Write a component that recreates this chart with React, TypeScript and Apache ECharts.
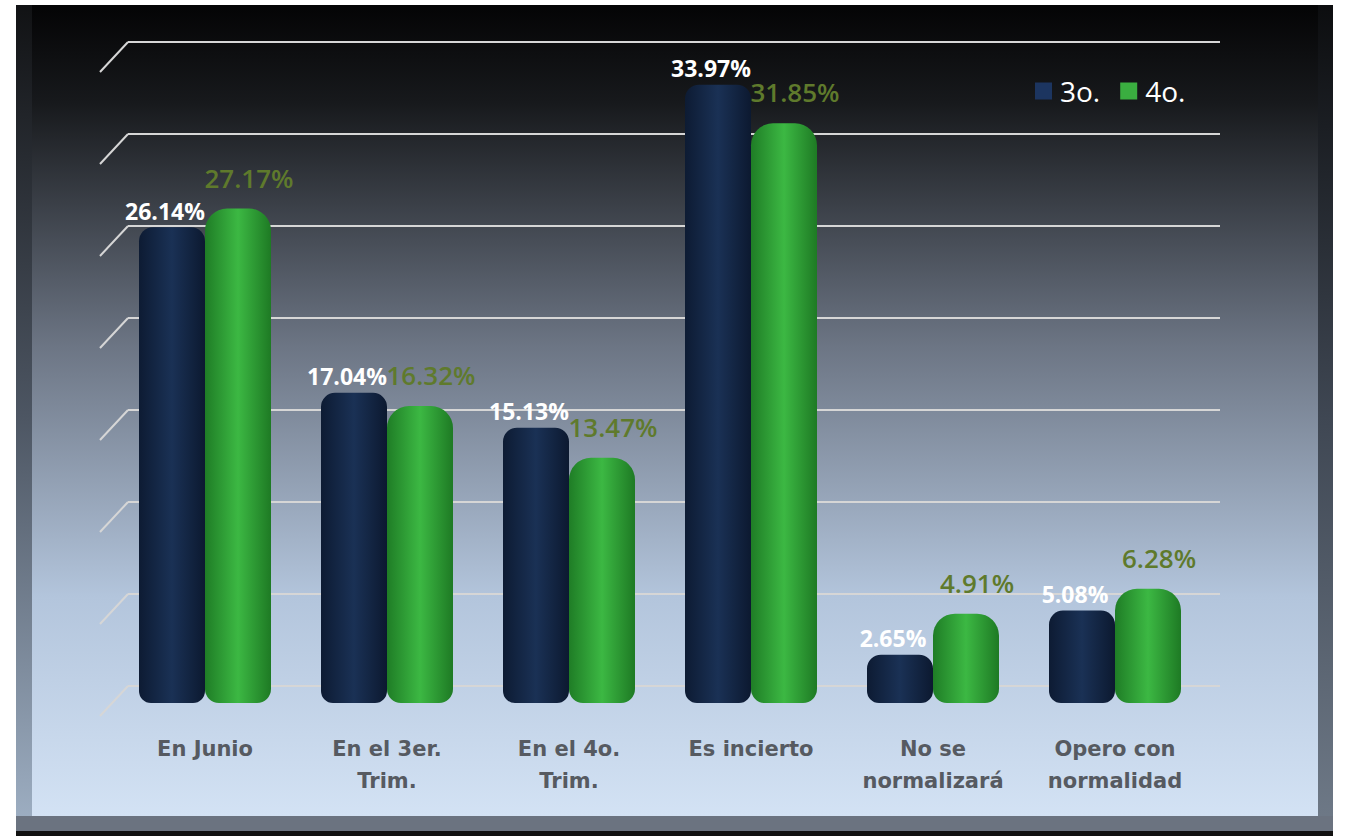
import React, { useEffect, useRef } from "react";
import * as echarts from "echarts";

const categories = [
  "En Junio",
  "En el 3er.\nTrim.",
  "En el 4o.\nTrim.",
  "Es incierto",
  "No se\nnormalizará",
  "Opero con\nnormalidad",
];
const seriesNames = ["3o.", "4o."];
const values3 = [26.14, 17.04, 15.13, 33.97, 2.65, 5.08];
const values4 = [27.17, 16.32, 13.47, 31.85, 4.91, 6.28];
const gridTicks = [0, 5, 10, 15, 20, 25, 30, 35];

export default function App() {
  const ref = useRef<HTMLDivElement>(null);
  useEffect(() => {
    if (!ref.current) return;
    const chart = echarts.init(ref.current, null, { renderer: "svg" });
    const navy = new echarts.graphic.LinearGradient(0, 0, 1, 0, [
      { offset: 0, color: "#0d1b33" },
      { offset: 0.5, color: "#1a3155" },
      { offset: 1, color: "#0c1930" },
    ]);
    const green = new echarts.graphic.LinearGradient(0, 0, 1, 0, [
      { offset: 0, color: "#1f7d26" },
      { offset: 0.5, color: "#3cb843" },
      { offset: 1, color: "#1e7a24" },
    ]);
    chart.setOption({
      animation: false,
      graphic: [
        {
          type: "rect",
          z: -10,
          shape: { x: 16, y: 5, width: 1317, height: 826 },
          style: {
            fill: new echarts.graphic.LinearGradient(0, 0, 0, 1, [
              { offset: 0, color: "#111214" },
              { offset: 0.5, color: "#4d5663" },
              { offset: 1, color: "#9fb0c4" },
            ]),
          },
        },
        {
          type: "rect",
          z: -9,
          shape: { x: 32, y: 5, width: 1286, height: 811 },
          style: {
            fill: new echarts.graphic.LinearGradient(0, 0, 0, 1, [
              { offset: 0, color: "#040405" },
              { offset: 0.12, color: "#17191c" },
              { offset: 0.42, color: "#6c7584" },
              { offset: 0.73, color: "#b3c5dc" },
              { offset: 1, color: "#d3e2f4" },
            ]),
          },
        },
        {
          type: "rect",
          z: -9,
          shape: { x: 1318, y: 5, width: 15, height: 826 },
          style: {
            fill: new echarts.graphic.LinearGradient(0, 0, 0, 1, [
              { offset: 0, color: "#0c0d0f" },
              { offset: 0.5, color: "#3f4753" },
              { offset: 1, color: "#6f7a88" },
            ]),
          },
        },
        {
          type: "rect",
          z: -8,
          shape: { x: 16, y: 816, width: 1317, height: 15 },
          style: { fill: "#6b7380" },
        },
        {
          type: "rect",
          z: -8,
          shape: { x: 16, y: 831, width: 1317, height: 5 },
          style: { fill: "#111111" },
        },
      ],
      legend: {
        data: [
          { name: seriesNames[0], itemStyle: { color: "#1c3560" } },
          { name: seriesNames[1], itemStyle: { color: "#3aae40" } },
        ],
        left: 1030,
        top: 72,
        itemWidth: 17,
        itemHeight: 17,
        itemGap: 20,
        icon: "rect",
        textStyle: { color: "#ffffff", fontSize: 28, fontFamily: "Open Sans", padding: [0, 0, 0, 3] },
      },
      grid: [
        { left: 114, right: 139, top: 66, bottom: 133 },
        { left: 128, right: 125, top: 42, bottom: 150 },
      ],
      xAxis: [
        {
          type: "category",
          gridIndex: 0,
          data: categories,
          axisLine: { show: false },
          axisTick: { show: false },
          axisLabel: {
            margin: 30,
            color: "#565a61",
            fontSize: 21,
            fontWeight: "bold",
            fontFamily: "DejaVu Sans",
            lineHeight: 32,
            interval: 0,
          },
        },
        { type: "value", gridIndex: 1, min: 0, max: 1, show: false },
      ],
      yAxis: [
        { type: "value", gridIndex: 0, min: 0, max: 35, interval: 5, show: false },
        {
          type: "value",
          gridIndex: 1,
          min: 0,
          max: 35,
          interval: 5,
          axisLine: { show: false },
          axisTick: { show: false },
          axisLabel: { show: false },
          splitLine: { lineStyle: { color: "#d6d6d6", width: 2 } },
        },
      ],
      series: [
        {
          type: "custom",
          xAxisIndex: 1,
          yAxisIndex: 1,
          silent: true,
          data: gridTicks.map((t) => [0, t]),
          renderItem: (params: any, api: any) => {
            const p = api.coord([0, api.value(1)]);
            return {
              type: "line",
              shape: { x1: p[0], y1: p[1], x2: p[0] - 28, y2: p[1] + 30 },
              style: { stroke: "#d6d6d6", lineWidth: 2 },
            };
          },
        },
        {
          name: seriesNames[0],
          type: "bar",
          data: values3,
          barWidth: 66,
          barGap: "0%",
          itemStyle: { color: navy, borderRadius: [14, 14, 12, 12] },
          label: {
            show: true,
            position: "top",
            distance: 4,
            offset: [-7, -1],
            formatter: (p: any) => p.value.toFixed(2) + "%",
            color: "#ffffff",
            fontSize: 23,
            fontWeight: "bold",
            fontFamily: "Open Sans",
          },
        },
        {
          name: seriesNames[1],
          type: "bar",
          data: values4,
          barWidth: 66,
          barGap: "0%",
          itemStyle: { color: green, borderRadius: [22, 22, 14, 14] },
          label: {
            show: true,
            position: "top",
            distance: 4,
            offset: [11, -14],
            formatter: (p: any) => p.value.toFixed(2) + "%",
            color: "#5f7a2c",
            fontSize: 26,
            fontWeight: 600,
            fontFamily: "Open Sans",
          },
        },
      ],
    });
    return () => chart.dispose();
  }, []);
  return (
    <div
      ref={ref}
      style={{ position: "fixed", left: 0, top: 0, width: 1345, height: 836, background: "#ffffff" }}
    />
  );
}
